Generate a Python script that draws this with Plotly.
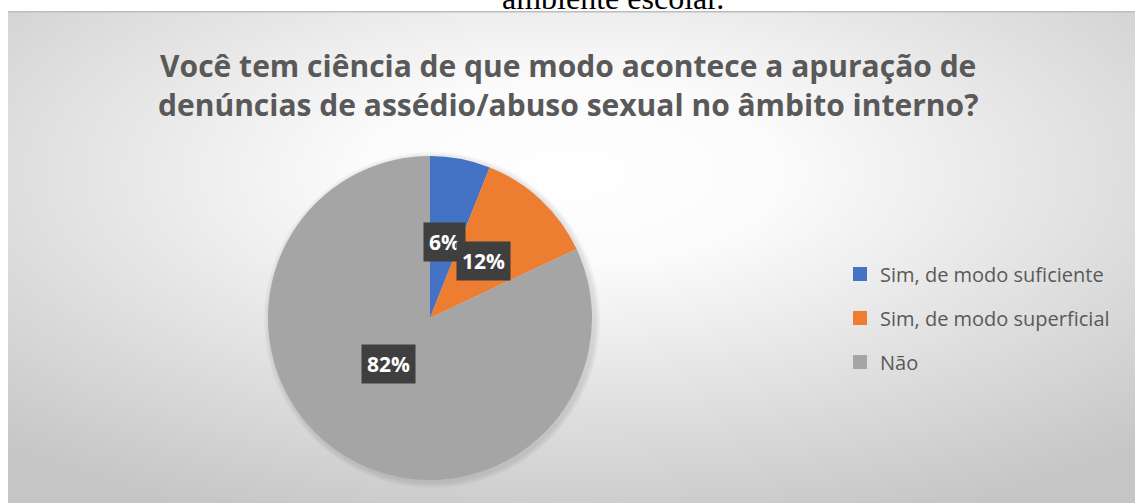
import math
import base64
import plotly.graph_objects as go

# dados
labels = ["Sim, de modo suficiente", "Sim, de modo superficial", "Não"]
values = [6, 12, 82]
colors = ["#4472C4", "#ED7D31", "#A5A5A5"]

title_lines = [
    "Você tem ciência de que modo acontece a apuração de",
    "denúncias de assédio/abuso sexual no âmbito interno?",
]
caption_above = "ambiente escolar."

W, H = 1135, 503
# caixa da pizza em pixels: esquerda, direita, topo, base
pie_box = (268, 592, 156, 480)


def pie_domain(grow=0, dx=0, dy=0):
    l, r, t, b = pie_box
    return dict(
        x=[(l - grow + dx) / W, (r + grow + dx) / W],
        y=[1 - (b + grow + dy) / H, 1 - (t - grow + dy) / H],
    )


fig = go.Figure()

# =====================
#   fundo com gradiente radial (como no Excel)
# =====================
svg = (
    '<svg xmlns="http://www.w3.org/2000/svg" width="1127" height="492" '
    'viewBox="0 0 1127 492" preserveAspectRatio="none">'
    '<defs><radialGradient id="g" cx="0.5" cy="0.33" r="0.75">'
    '<stop offset="0" stop-color="#ffffff"/>'
    '<stop offset="0.25" stop-color="#fbfbfb"/>'
    '<stop offset="1" stop-color="#c6c6c6"/>'
    "</radialGradient></defs>"
    '<rect width="1127" height="492" fill="url(#g)"/>'
    '<rect x="0" y="0" width="1127" height="1.5" fill="#bdbdbd"/>'
    "</svg>"
)
bg_src = "data:image/svg+xml;base64," + base64.b64encode(svg.encode()).decode()

fig.add_layout_image(
    source=bg_src,
    xref="paper", yref="paper",
    x=8 / W, y=1 - 11 / H,
    sizex=1 - 8 / W, sizey=1 - 11 / H,
    xanchor="left", yanchor="top",
    sizing="stretch", layer="below",
)

# sombra suave por trás da pizza
for k in (2, 4, 6):
    fig.add_trace(
        go.Pie(
            values=[1],
            marker=dict(colors=["rgba(0,0,0,0.035)"], line=dict(width=0)),
            textinfo="none",
            hoverinfo="skip",
            showlegend=False,
            sort=False,
            domain=pie_domain(grow=k, dx=2, dy=2),
        )
    )

# =====================
#   pizza
# =====================
fig.add_trace(
    go.Pie(
        labels=labels,
        values=values,
        sort=False,
        direction="clockwise",
        rotation=0,
        marker=dict(colors=colors, line=dict(width=0)),
        textinfo="none",
        hoverinfo="label+percent",
        showlegend=False,
        domain=pie_domain(),
    )
)

# legenda (uma entrada por categoria, para controlar o espaçamento)
for lab, col in zip(labels, colors):
    fig.add_trace(
        go.Scatter(
            x=[None], y=[None],
            mode="markers",
            name=lab,
            legendgroup=lab,
            marker=dict(symbol="square", size=14, color=col),
            hoverinfo="skip",
        )
    )

# =====================
#   rótulos de dados (caixas escuras)
# =====================
l, r, t, b = pie_box
cx, cy = (l + r) / 2, (t + b) / 2
R = min(r - l, b - t) / 2
total = sum(values)
acc = 0
for v in values:
    mid = (acc + v / 2) / total * 2 * math.pi
    acc += v
    px = cx + 0.48 * R * math.sin(mid)
    py = cy - 0.48 * R * math.cos(mid)
    fig.add_annotation(
        x=px / W, y=1 - py / H,
        xref="paper", yref="paper",
        text=f"<b>{round(v / total * 100)}%</b>",
        showarrow=False,
        font=dict(family="Open Sans", size=21, color="white"),
        bgcolor="#3f3f3f",
        borderpad=5,
    )

# =====================
#   título
# =====================
fig.add_annotation(
    x=568 / W, y=1 - 85 / H,
    xref="paper", yref="paper",
    xanchor="center", yanchor="middle",
    text="<b>" + "<br>".join(title_lines) + "</b>",
    showarrow=False,
    font=dict(family="Open Sans", size=30, color="#595959"),
    align="center",
)

# texto do documento cortado acima do gráfico
fig.add_annotation(
    x=613 / W, y=1 - 18 / H,
    xref="paper", yref="paper",
    text=caption_above,
    showarrow=False,
    xanchor="center", yanchor="bottom",
    font=dict(family="Liberation Serif", size=32, color="black"),
)

# =====================
#   Layout
# =====================
fig.update_layout(
    width=W,
    height=H,
    margin=dict(l=0, r=0, t=0, b=0),
    paper_bgcolor="white",
    plot_bgcolor="rgba(0,0,0,0)",
    xaxis=dict(visible=False),
    yaxis=dict(visible=False),
    legend=dict(
        x=840 / W, y=1 - 318 / H,
        xanchor="left", yanchor="middle",
        font=dict(family="Open Sans", size=20, color="#595959"),
        tracegroupgap=15,
        bgcolor="rgba(0,0,0,0)",
    ),
    showlegend=True,
)

# sem margem do <body>, para o gráfico ocupar a janela inteira
fig.write_html(
    "out.html",
    config={"displayModeBar": False},
    post_script="document.body.style.margin='0';",
)
